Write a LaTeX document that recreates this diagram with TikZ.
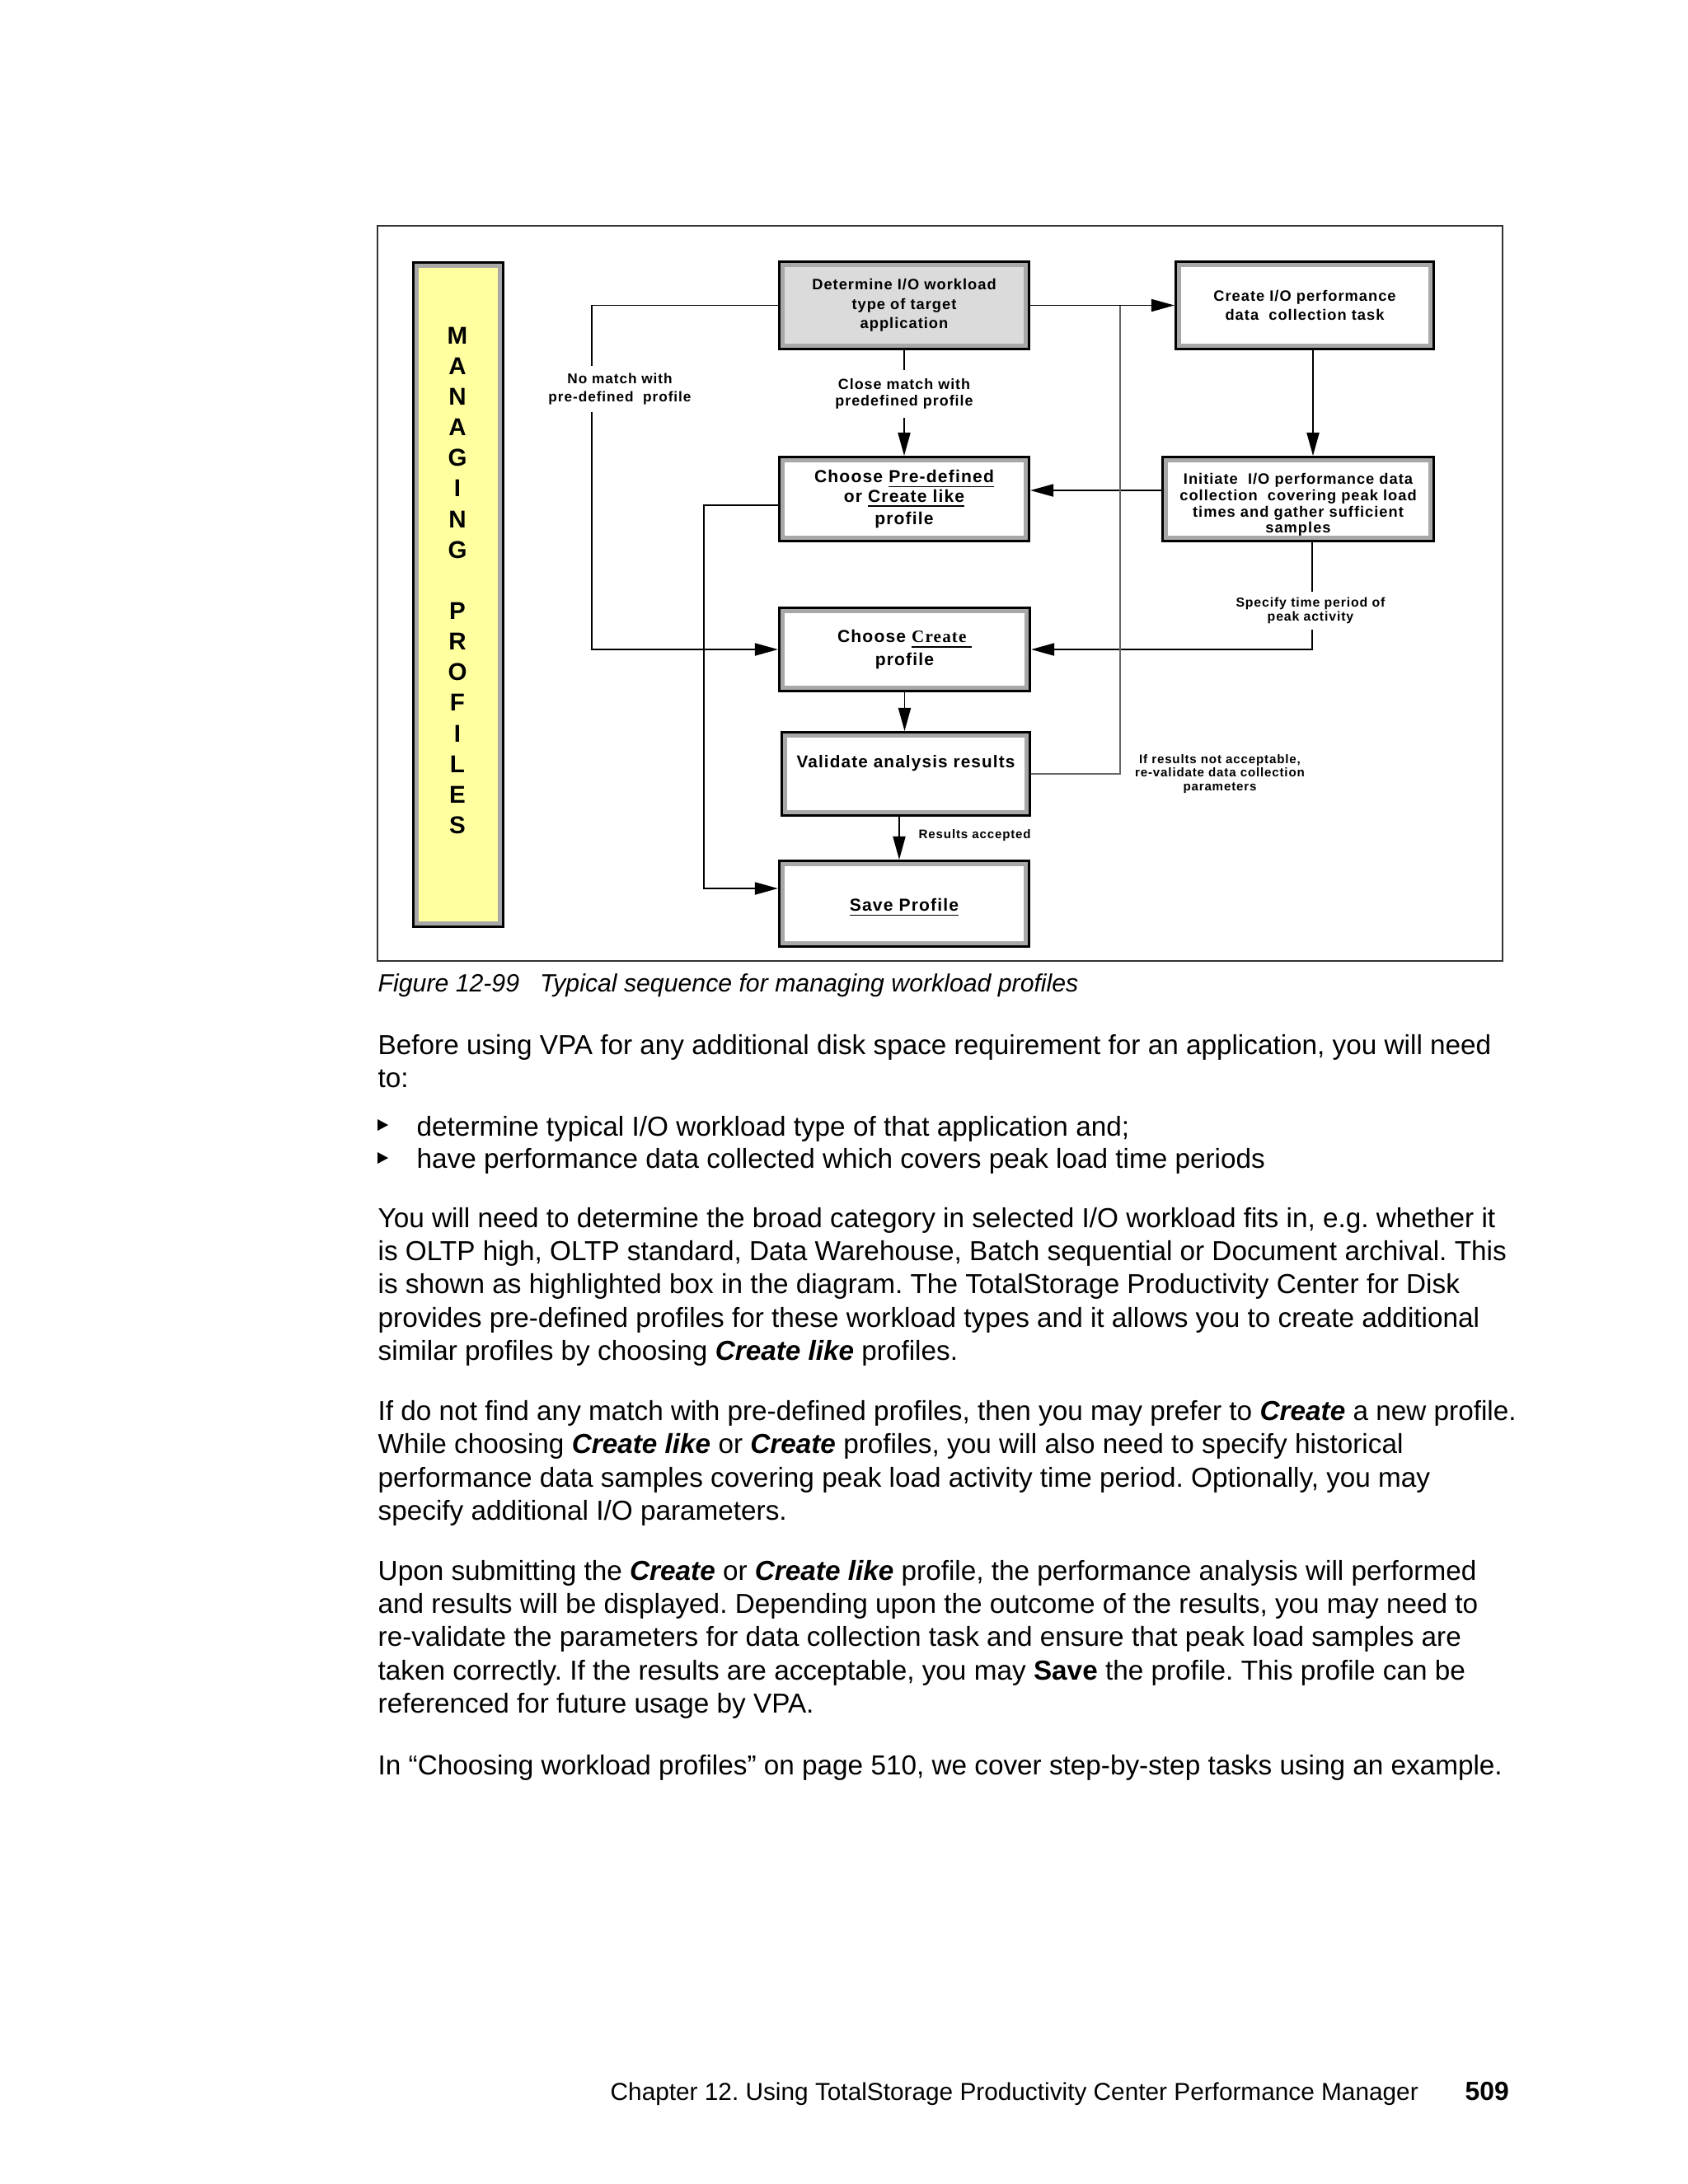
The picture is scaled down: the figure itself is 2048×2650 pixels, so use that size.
\documentclass[tikz,border=0pt]{standalone}
\usepackage{fontspec}
\setmainfont{Liberation Sans}
\newfontfamily\diagfont[LetterSpace=5.5]{Liberation Sans}
\newfontfamily\serifcreate[LetterSpace=5.5]{Liberation Serif}
\usetikzlibrary{arrows.meta,positioning}
\definecolor{bandgray}{RGB}{168,168,168}
\definecolor{baryellow}{RGB}{255,255,160}
\newcommand\dfont[2]{\diagfont\bfseries\fontsize{#1}{#2}\selectfont}
\newcommand\emphbi[1]{\textbf{\textit{#1}}}
\tikzset{
  stepbox/.style={draw=black, line width=0.85pt, fill=white, inner sep=0pt, align=center,
    path picture={\draw[draw=bandgray, line width=1.42pt]
      ([xshift=0.04cm,yshift=0.04cm]path picture bounding box.south west) rectangle
      ([xshift=-0.04cm,yshift=-0.04cm]path picture bounding box.north east);}},
  flow/.style={draw, line width=0.5pt, -{Triangle[length=8pt,width=4.3pt]}},
  feedback/.style={draw=black!60, line width=0.3pt},
  lbl/.style={fill=white, inner sep=2.5pt, align=center},
  barletter/.style={inner sep=0pt, font=\bfseries\fontsize{8.4}{10}\selectfont},
  bodytext/.style={anchor=base west, align=left, inner sep=0pt, font=\fontsize{9.47}{11.38}\selectfont}
}
\begin{document}
\frenchspacing
\begin{tikzpicture}[x=0.01cm,y=-0.01cm]
  \useasboundingbox (0,0) rectangle (2048,2650);
  % figure frame
  \draw[draw=black!80, line width=0.45pt] (458,274) rectangle (1823,1166);

  % side bar
  \node[stepbox, fill=baryellow, minimum width=1.09cm, minimum height=8.06cm] (bar) at (556,721.5) {};
  \foreach \l [count=\i] in {M,A,N,A,G,I,N,G,{},P,R,O,F,I,L,E,S}
    \node[barletter] (bar\i) at (555,{407+37.15*(\i-1)}) {\l};

  % boxes
  \node[stepbox, fill=gray!28, minimum width=3.03cm, minimum height=1.06cm, font=\dfont{5.2}{6.7}] (det) at (1097,370.5)
    {Determine I/O workload\\type of target\\application};
  \node[stepbox, minimum width=3.13cm, minimum height=1.06cm, font=\dfont{5.2}{6.3}] (crt) at (1583,370.5)
    {Create I/O performance\\data\ \ collection task};
  \node[stepbox, minimum width=3.03cm, minimum height=1.02cm, font=\dfont{6}{6.8}] (pre) at (1097,605.5)
    {Choose \underline{Pre-defined}\\or \underline{Create like}\\[1.1pt]profile};
  \node[stepbox, minimum width=3.29cm, minimum height=1.02cm, text height=24.6pt, font=\dfont{5.2}{5.6}] (ini) at (1575,605.5)
    {Initiate\ \ I/O performance data\\collection\ \ covering peak load\\times and gather sufficient\\samples};
  \node[stepbox, minimum width=3.04cm, minimum height=1.01cm, font=\dfont{6}{7.7}] (cre) at (1097.5,788)
    {Choose \underline{\serifcreate Create\ }\\profile};
  \node[stepbox, minimum width=3.01cm, minimum height=1.01cm, text depth=8.4pt, font=\dfont{5.9}{7}] (val) at (1099,939)
    {Validate analysis results};
  \node[stepbox, minimum width=3.03cm, minimum height=1.04cm, text height=7pt, font=\dfont{6}{7}] (sav) at (1097,1096.5)
    {\underline{Save Profile}};

  % connectors
  \coordinate (nmbend) at (718,788);
  \coordinate (svbend) at (854,1078);
  \coordinate (fbx) at (1359,0);
  \draw[flow] (det.west) -| (nmbend) -- (cre.west);
  \draw[flow] (det.south) -- (pre.north);
  \draw[flow] (det.east) -- (crt.west);
  \draw[flow] ([xshift=0.1cm]crt.south) -- ([xshift=0.1cm]crt.south |- ini.north);
  \draw[flow] ([yshift=0.105cm]ini.west) -- ([yshift=0.105cm]ini.west -| pre.east);
  \draw[flow] ([xshift=0.17cm]ini.south) |- (cre.east);
  \draw[feedback] (val.east) -| (det.east -| fbx);
  \draw[flow] ([yshift=-0.075cm]pre.west) -| (svbend) -- ([yshift=0.185cm]sav.west);
  \draw[flow] (cre.south) -- (cre.south |- val.north);
  \draw[flow] ([xshift=-0.08cm]val.south) -- ([xshift=-0.08cm]val.south |- sav.north);

  % connector labels
  \node[lbl, font=\dfont{4.9}{6.2}] (nomatch) at (752,472) {No match with\\pre-defined\ \ profile};
  \node[lbl, inner sep=3pt, font=\dfont{5.1}{5.5}] (close) at (1097,478) {Close match with\\predefined profile};
  \node[lbl, inner sep=2pt, font=\dfont{4.5}{4.8}] (period) at (1590,741) {Specify time period of\\peak activity};
  \node[lbl, font=\dfont{4.3}{4.75}] (retry) at (1480,939) {If results not acceptable,\\re-validate data collection\\parameters};
  \node[lbl, anchor=base west, inner sep=0pt, font=\dfont{4.3}{4.75}] (accepted) at (1114,1017) {Results accepted};

  % caption and page text (anchor = baseline of last line)
  \node[anchor=base west, inner sep=0pt, font=\itshape\fontsize{8.6}{10}\selectfont] (caption) at (458,1203)
    {Figure 12-99\hspace{7.1pt}Typical sequence for managing workload profiles};
  \node[bodytext] (para1) at (458,1319)
    {Before using VPA for any additional disk space requirement for an application, you will need\\to:};
  \fill (458,1358) -- (471,1365) -- (458,1372) -- cycle;
  \fill (458,1398) -- (471,1405) -- (458,1412) -- cycle;
  \node[bodytext] (item1) at (505,1378) {determine typical I/O workload type of that application and;};
  \node[bodytext] (item2) at (505,1417) {have performance data collected which covers peak load time periods};
  \node[bodytext] (para2) at (458,1650)
    {You will need to determine the broad category in selected I/O workload fits in, e.g. whether it\\
     is OLTP high, OLTP standard, Data Warehouse, Batch sequential or Document archival. This\\
     is shown as highlighted box in the diagram. The TotalStorage Productivity Center for Disk\\
     provides pre-defined profiles for these workload types and it allows you to create additional\\
     similar profiles by choosing \emphbi{Create like} profiles.};
  \node[bodytext] (para3) at (458,1844)
    {If do not find any match with pre-defined profiles, then you may prefer to \emphbi{Create} a new profile.\\
     While choosing \emphbi{Create like} or \emphbi{Create} profiles, you will also need to specify historical\\
     performance data samples covering peak load activity time period. Optionally, you may\\
     specify additional I/O parameters.};
  \node[bodytext] (para4) at (458,2078)
    {Upon submitting the \emphbi{Create} or \emphbi{Create like} profile, the performance analysis will performed\\
     and results will be displayed. Depending upon the outcome of the results, you may need to\\
     re-validate the parameters for data collection task and ensure that peak load samples are\\
     taken correctly. If the results are acceptable, you may \textbf{Save} the profile. This profile can be\\
     referenced for future usage by VPA.};
  \node[bodytext] (para5) at (458,2153)
    {In “Choosing workload profiles” on page 510, we cover step-by-step tasks using an example.};

  % footer
  \node[anchor=base west, inner sep=0pt, font=\fontsize{8.47}{10}\selectfont] (chapter) at (740,2548)
    {Chapter 12. Using TotalStorage Productivity Center Performance Manager};
  \node[anchor=base west, inner sep=0pt, font=\bfseries\fontsize{9.05}{10}\selectfont] (pageno) at (1777,2548) {509};
\end{tikzpicture}
\end{document}
